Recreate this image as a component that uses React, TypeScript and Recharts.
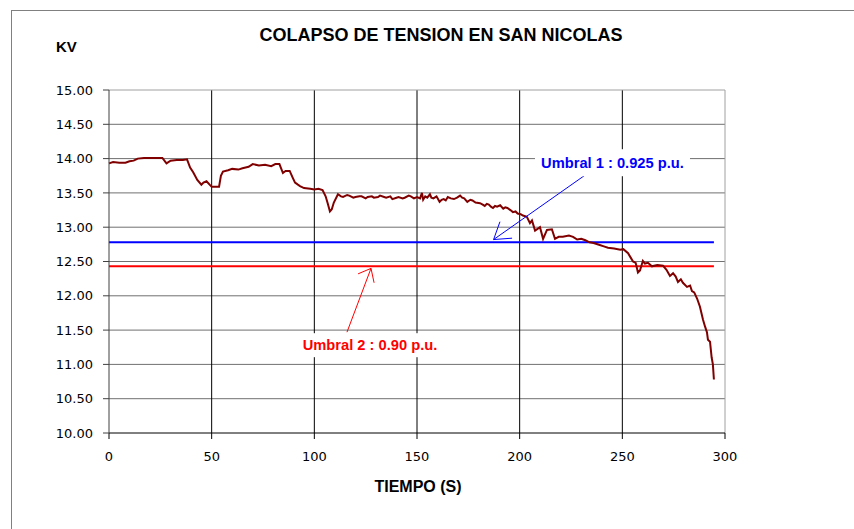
import {
  LineChart,
  Line,
  XAxis,
  YAxis,
  CartesianGrid,
  ReferenceLine,
  ReferenceDot,
} from 'recharts';

const tiempo = [
  0, 2, 5, 8, 10, 12, 14, 17, 20, 23,
  26, 28, 30, 33, 36, 38, 39.5, 41, 43, 45,
  46, 47.5, 49, 50, 52, 53.6, 54.5, 55.5, 58, 60,
  63, 65, 68, 70, 73, 76, 79, 81, 83, 84.7,
  86, 88, 89.5, 90.6, 92, 93, 95, 98, 100, 102,
  104, 105.5, 106.5, 107.6, 108.5, 109.5, 111.5, 113, 114, 116,
  117, 119, 120, 122, 123, 125, 126, 128, 129, 131,
  132, 134, 135, 137, 138, 140, 141, 143, 144, 146,
  147, 148.5, 150, 151.5, 152.4, 153, 154, 155, 156.3, 157,
  158, 159.5, 161, 162, 163, 164, 165, 166.5, 168, 169.5,
  171, 172, 173, 174.5, 176, 177, 178.5, 180.7, 182, 183,
  184, 185, 186, 187, 188, 189, 190.5, 192, 193, 194,
  195.5, 196.7, 198, 199, 200.5, 201.6, 203.5, 205, 206, 207.5,
  209.9, 211.4, 213.3, 215.7, 217.2, 219, 221, 224, 226, 228,
  230, 232, 234, 236, 239, 241, 243, 246, 249, 250.5,
  252.8, 254, 255.2, 256.5, 257.6, 258.6, 260, 261, 262.5, 264.4,
  267, 269.8, 271.5, 273.2, 274.7, 276, 277.1, 278.5, 279.5, 281.5,
  283, 283.9, 285, 286.4, 287.8, 289.3, 290.3, 291.2, 291.7, 292.7,
  293.5, 294.1, 294.6,
];

const tension = [
  13.93, 13.95, 13.94, 13.94, 13.96, 13.97, 14.0, 14.01, 14.01, 14.01,
  14.01, 13.93, 13.97, 13.98, 13.98, 13.99, 13.87, 13.8, 13.69, 13.62,
  13.65, 13.67, 13.62, 13.59, 13.59, 13.59, 13.75, 13.81, 13.83, 13.85,
  13.84, 13.86, 13.88, 13.92, 13.9, 13.91, 13.89, 13.92, 13.92, 13.79,
  13.82, 13.82, 13.72, 13.65, 13.62, 13.6, 13.57, 13.56, 13.55, 13.56,
  13.54, 13.45, 13.35, 13.23, 13.26, 13.36, 13.48, 13.45, 13.44, 13.47,
  13.46, 13.43, 13.44, 13.45, 13.45, 13.42, 13.44, 13.45, 13.43, 13.44,
  13.46, 13.44, 13.43, 13.45, 13.41, 13.43, 13.44, 13.42, 13.43, 13.46,
  13.45, 13.42, 13.44, 13.42, 13.5, 13.4, 13.45, 13.43, 13.48, 13.43,
  13.42, 13.45, 13.37, 13.4, 13.41, 13.39, 13.44, 13.42, 13.41, 13.43,
  13.46, 13.43, 13.42, 13.37, 13.4, 13.39, 13.36, 13.35, 13.33, 13.31,
  13.34, 13.33, 13.3, 13.28, 13.31, 13.3, 13.32, 13.27, 13.29, 13.28,
  13.25, 13.22, 13.23, 13.2, 13.19, 13.17, 13.15, 13.06, 13.1, 12.95,
  13.0, 12.83, 12.96, 12.97, 12.83, 12.86, 12.86, 12.88, 12.86, 12.82,
  12.83, 12.81, 12.78, 12.77, 12.74, 12.72, 12.7, 12.69, 12.67, 12.68,
  12.62, 12.56, 12.5, 12.48, 12.34, 12.37, 12.51, 12.47, 12.48, 12.43,
  12.45, 12.44, 12.38, 12.29, 12.33, 12.28, 12.2, 12.24, 12.19, 12.13,
  12.15, 12.07, 12.05, 11.96, 11.84, 11.65, 11.55, 11.47, 11.36, 11.33,
  11.1, 11.0, 10.78,
];

const xTicks = [0, 50, 100, 150, 200, 250, 300];
const yTicks = [10, 10.5, 11, 11.5, 12, 12.5, 13, 13.5, 14, 14.5, 15];

const umbral1 = 12.78; // 0.925 p.u.
const umbral2 = 12.43; // 0.90 p.u.
const tFin = 294.6;

const data = tiempo.map((t, i) => ({ t, kv: tension[i] }));

const FONT = '"Liberation Sans", Arial, sans-serif';
const TICK_FONT = '"DejaVu Sans", sans-serif';

function Etiqueta(props: any) {
  const { cx, cy, text, color, w, h } = props;
  if (cx == null || cy == null) return null;
  return (
    <g>
      <rect x={cx - w / 2} y={cy - h / 2} width={w} height={h} fill="#fff" />
      <text
        x={cx}
        y={cy}
        textAnchor="middle"
        dominantBaseline="central"
        fill={color}
        fontFamily={FONT}
        fontWeight="bold"
        fontSize={14.7}
      >
        {text}
      </text>
    </g>
  );
}

export default function App() {
  return (
    <div
      style={{
        position: 'absolute',
        left: 0,
        top: 0,
        width: 854,
        height: 529,
        overflow: 'hidden',
        background: '#fff',
        fontFamily: FONT,
      }}
    >
      <div
        style={{
          position: 'absolute',
          left: 11,
          top: 10,
          width: 900,
          height: 600,
          borderLeft: '1px solid #808080',
          borderTop: '1px solid #808080',
        }}
      />
      <div
        style={{
          position: 'absolute',
          left: 0,
          width: 882,
          top: 25,
          textAlign: 'center',
          fontSize: 18,
          fontWeight: 'bold',
        }}
      >
        COLAPSO DE TENSION EN SAN NICOLAS
      </div>
      <div style={{ position: 'absolute', left: 56, top: 38, fontSize: 15, fontWeight: 'bold' }}>
        KV
      </div>
      <div
        style={{
          position: 'absolute',
          left: 318,
          width: 200,
          top: 478,
          textAlign: 'center',
          fontSize: 16,
          fontWeight: 'bold',
        }}
      >
        TIEMPO (S)
      </div>
      <div style={{ position: 'absolute', left: 0, top: 0 }}>
        <LineChart
          width={854}
          height={529}
          data={data}
          margin={{ top: 90, right: 129, left: 0, bottom: 36 }}
        >
          <CartesianGrid
            vertical={false}
            horizontalValues={[10.5, 11, 11.5, 12, 12.5, 13, 13.5, 14, 14.5]}
            stroke="#707070"
          />
          <CartesianGrid
            horizontal={false}
            verticalValues={[50, 100, 150, 200, 250]}
            stroke="#000"
          />
          <ReferenceLine y={15} stroke="#a0a0a0" />
          <ReferenceLine x={300} stroke="#a0a0a0" />
          <XAxis
            dataKey="t"
            type="number"
            domain={[0, 300]}
            ticks={xTicks}
            tickSize={6}
            tickMargin={13}
            height={60}
            stroke="#000"
            tick={{ fill: '#000', fontSize: 13, fontFamily: TICK_FONT }}
          />
          <YAxis
            type="number"
            domain={[10, 15]}
            ticks={yTicks}
            width={109}
            tickSize={6}
            tickMargin={10}
            stroke="#404040"
            tickFormatter={(v: number) => v.toFixed(2)}
            tick={{ fill: '#000', fontSize: 13, fontFamily: TICK_FONT }}
          />
          <ReferenceLine
            segment={[
              { x: 0, y: umbral1 },
              { x: tFin, y: umbral1 },
            ]}
            stroke="#0000ff"
            strokeWidth={2}
          />
          <ReferenceLine
            segment={[
              { x: 0, y: umbral2 },
              { x: tFin, y: umbral2 },
            ]}
            stroke="#ff0000"
            strokeWidth={2}
          />
          <Line
            type="linear"
            dataKey="kv"
            stroke="#800000"
            strokeWidth={2}
            dot={false}
            isAnimationActive={false}
          />
          {/* flecha umbral 1 */}
          <ReferenceLine segment={[{ x: 233.8, y: 13.8 }, { x: 187.3, y: 12.82 }]} stroke="#0000ff" />
          <ReferenceLine segment={[{ x: 187.3, y: 12.82 }, { x: 190.4, y: 13.08 }]} stroke="#0000ff" />
          <ReferenceLine segment={[{ x: 187.3, y: 12.82 }, { x: 196.3, y: 12.84 }]} stroke="#0000ff" />
          {/* flecha umbral 2 */}
          <ReferenceLine segment={[{ x: 115.9, y: 11.47 }, { x: 127.6, y: 12.4 }]} stroke="#ff0000" />
          <ReferenceLine segment={[{ x: 127.6, y: 12.4 }, { x: 121.3, y: 12.32 }]} stroke="#ff0000" />
          <ReferenceLine segment={[{ x: 127.6, y: 12.4 }, { x: 129.1, y: 12.19 }]} stroke="#ff0000" />
          <ReferenceDot
            x={245.2}
            y={13.94}
            r={0}
            shape={(p: any) => (
              <Etiqueta {...p} text="Umbral 1 : 0.925 p.u." color="#0000ff" w={155} h={27} />
            )}
          />
          <ReferenceDot
            x={127.1}
            y={11.28}
            r={0}
            shape={(p: any) => (
              <Etiqueta {...p} text="Umbral 2 : 0.90 p.u." color="#ff0000" w={152} h={24} />
            )}
          />
        </LineChart>
      </div>
    </div>
  );
}
